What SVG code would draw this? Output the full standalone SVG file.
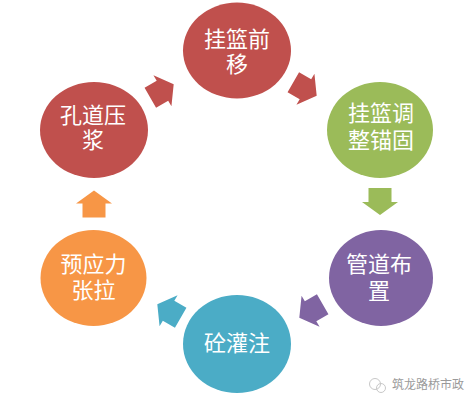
<svg xmlns="http://www.w3.org/2000/svg" width="474" height="406" viewBox="0 0 474 406">
  <style>
    .lbl { font-family: "Liberation Sans", "Noto Sans CJK SC", sans-serif; font-size: 22px; fill: #ffffff; text-anchor: middle; dominant-baseline: central; }
    .wm { font-family: "Noto Sans CJK SC", "Noto Sans", sans-serif; font-size: 12px; fill: #9a9a9a; }
  </style>
  <defs>
    <path id="arr" d="M-13.5,-11.5 L0.5,-11.5 L0.5,-18 L13.5,0 L0.5,18 L0.5,11.5 L-13.5,11.5 Z"/>
  </defs>
  <rect width="474" height="406" fill="#ffffff"/>

  <g id="connectors">
    <use href="#arr" fill="#C0504D" transform="translate(162,91) rotate(-30)"/>
    <use href="#arr" fill="#C0504D" transform="translate(305,89) rotate(30)"/>
    <use href="#arr" fill="#9BBB59" transform="translate(380,201.5) rotate(90)"/>
    <use href="#arr" fill="#8064A2" transform="translate(311,311) rotate(150)"/>
    <use href="#arr" fill="#4BACC6" transform="translate(169,311) rotate(210)"/>
    <use href="#arr" fill="#F79646" transform="translate(94,204) rotate(-90)"/>
  </g>

  <g id="node-top">
    <ellipse cx="237" cy="50.5" rx="54" ry="48" fill="#C0504D"/>
    <text class="lbl"><tspan x="237" y="39">挂篮前</tspan><tspan x="237" y="64">移</tspan></text>
  </g>
  <g id="node-upper-right">
    <ellipse cx="380" cy="130" rx="53" ry="48" fill="#9BBB59"/>
    <text class="lbl"><tspan x="381" y="113">挂篮调</tspan><tspan x="381" y="140">整锚固</tspan></text>
  </g>
  <g id="node-lower-right">
    <ellipse cx="381" cy="278" rx="52" ry="48" fill="#8064A2"/>
    <text class="lbl"><tspan x="379" y="264">管道布</tspan><tspan x="379" y="291">置</tspan></text>
  </g>
  <g id="node-bottom">
    <ellipse cx="237" cy="344" rx="54" ry="49" fill="#4BACC6"/>
    <text class="lbl" x="237" y="343">砼灌注</text>
  </g>
  <g id="node-lower-left">
    <ellipse cx="93.5" cy="278" rx="53" ry="48" fill="#F79646"/>
    <text class="lbl"><tspan x="93.5" y="264">预应力</tspan><tspan x="93.5" y="290">张拉</tspan></text>
  </g>
  <g id="node-upper-left">
    <ellipse cx="94" cy="130" rx="54" ry="48" fill="#C0504D"/>
    <text class="lbl"><tspan x="93" y="115">孔道压</tspan><tspan x="93" y="140">浆</tspan></text>
  </g>

  <g id="watermark">
    <circle cx="375" cy="384" r="5.5" fill="none" stroke="#c8c8c8" stroke-width="1"/>
    <circle cx="381" cy="388" r="4.5" fill="none" stroke="#c8c8c8" stroke-width="1"/>
    <text class="wm" x="392" y="389">筑龙路桥市政</text>
  </g>
</svg>
